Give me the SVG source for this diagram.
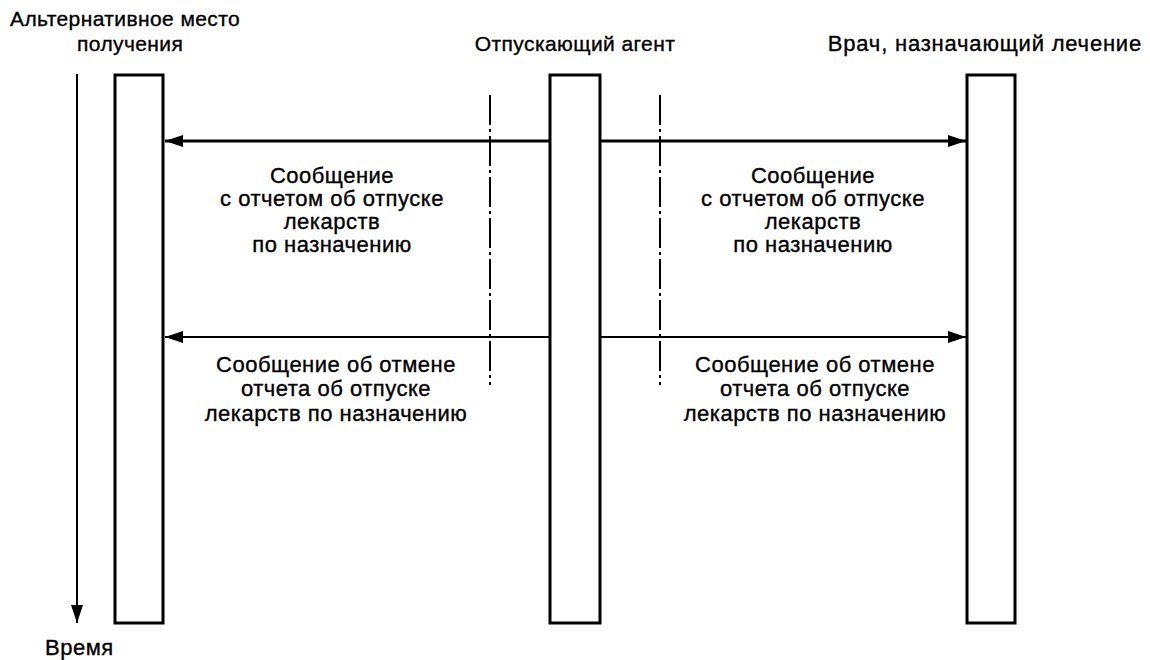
<svg xmlns="http://www.w3.org/2000/svg" width="1150" height="660" viewBox="0 0 1150 660">
  <style>
    text { font-family: "Liberation Sans", Arial, sans-serif; font-size: 22px; letter-spacing: 0.5px; fill: #000; stroke: #000; stroke-width: 0.35px; }
    .hdr { font-size: 21px; letter-spacing: 0.4px; }
    .wide { font-size: 22px; letter-spacing: 0.8px; }
    .lbl { text-anchor: middle; }
    .bar { fill: #fff; stroke: #000; stroke-width: 3; }
    .msg { stroke: #000; fill: none; }
    .guide { stroke: #000; stroke-width: 2; stroke-dasharray: 30 4 3 4; fill: none; }
  </style>
  <defs>
    <marker id="head" viewBox="0 0 18 12" refX="18" refY="6" markerWidth="18" markerHeight="12" markerUnits="userSpaceOnUse" orient="auto">
      <path d="M0,0 L18,6 L0,12 Z" fill="#000"/>
    </marker>
  </defs>

  <rect width="1150" height="660" fill="#fff"/>

  <!-- time axis -->
  <g id="time-axis">
    <line x1="77" y1="74" x2="77" y2="623" stroke="#000" stroke-width="2" marker-end="url(#head)"/>
    <text x="45" y="655">Время</text>
  </g>

  <!-- lifelines -->
  <g id="alt-receiver">
    <rect class="bar" x="115" y="75" width="48" height="548"/>
    <text class="hdr" x="10" y="26">Альтернативное место</text>
    <text class="hdr" x="77" y="51">получения</text>
  </g>
  <g id="dispenser">
    <rect class="bar" x="550" y="75" width="50" height="548"/>
    <text class="hdr lbl" x="575" y="51">Отпускающий агент</text>
  </g>
  <g id="prescriber">
    <rect class="bar" x="967" y="75" width="48" height="548"/>
    <text class="wide" x="1142" y="51" text-anchor="end">Врач, назначающий лечение</text>
  </g>

  <!-- boundary guides -->
  <g id="guides">
    <line class="guide" x1="490" y1="95" x2="490" y2="385"/>
    <line class="guide" x1="660" y1="95" x2="660" y2="385"/>
  </g>

  <!-- messages -->
  <g id="connectors">
    <line class="msg" x1="549" y1="141" x2="165" y2="141" stroke-width="3" marker-end="url(#head)"/>
    <line class="msg" x1="601" y1="141" x2="966" y2="141" stroke-width="3" marker-end="url(#head)"/>
    <line class="msg" x1="549" y1="337" x2="165" y2="337" stroke-width="2" marker-end="url(#head)"/>
    <line class="msg" x1="601" y1="337" x2="966" y2="337" stroke-width="2" marker-end="url(#head)"/>
  </g>

  <g id="labels">
    <text class="lbl" x="332" y="183">Сообщение</text>
    <text class="lbl" x="332" y="206">с отчетом об отпуске</text>
    <text class="lbl" x="332" y="229">лекарств</text>
    <text class="lbl" x="332" y="252">по назначению</text>

    <text class="lbl" x="813" y="183">Сообщение</text>
    <text class="lbl" x="813" y="206">с отчетом об отпуске</text>
    <text class="lbl" x="813" y="229">лекарств</text>
    <text class="lbl" x="813" y="252">по назначению</text>

    <text class="lbl" x="336" y="372">Сообщение об отмене</text>
    <text class="lbl" x="336" y="396">отчета об отпуске</text>
    <text class="lbl" x="336" y="421">лекарств по назначению</text>

    <text class="lbl" x="815" y="372">Сообщение об отмене</text>
    <text class="lbl" x="815" y="396">отчета об отпуске</text>
    <text class="lbl" x="815" y="421">лекарств по назначению</text>
  </g>
</svg>
